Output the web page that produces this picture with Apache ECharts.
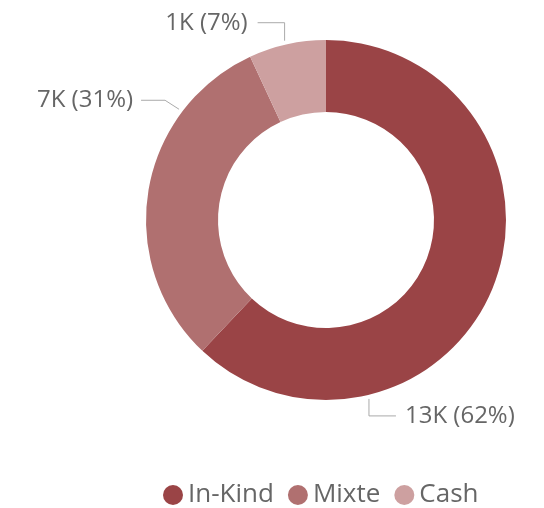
<!DOCTYPE html>
<html>
<head>
<meta charset="utf-8">
<script src="https://cdn.jsdelivr.net/npm/echarts@6/dist/echarts.min.js"></script>
<style>html,body{margin:0;padding:0;background:#fff}#c{width:544px;height:508px}</style>
</head>
<body>
<div id="c"></div>
<script>
const categories = ['In-Kind', 'Mixte', 'Cash'];
const values = [13000, 6500, 1450];
const colors = ['#9a4446', '#b07070', '#cda0a0'];

const CX = 326, CY = 220, R_IN = 108, R_OUT = 180;
const FONT = '"Segoe UI", "Open Sans", "Noto Sans", sans-serif';
// label anchor angles (deg, clockwise from 12 o'clock) and leader directions
const anchorDeg = [166.5, 307, 347];
const leader = [
  {d1: [0, 17], d2: [27, 0], gap: 9, align: 'left'},
  {d1: [-14, -9], d2: [-24, 0], gap: 8, align: 'right'},
  {d1: [0, -18], d2: [-27, 0], gap: 10, align: 'right'}
];

const chart = echarts.init(document.getElementById('c'));
chart.setOption({
  animation: false,
  color: colors,
  legend: {
    data: categories,
    top: 477,
    left: 158,
    icon: 'circle',
    itemWidth: 20,
    itemHeight: 20,
    itemGap: 14,
    textStyle: {fontFamily: FONT, fontSize: 26, color: '#666'}
  },
  series: [{
    type: 'pie',
    center: [CX, CY],
    radius: [R_IN, R_OUT],
    startAngle: 90,
    clockwise: true,
    avoidLabelOverlap: false,
    data: categories.map((c, i) => ({name: c, value: values[i]})),
    label: {
      show: true,
      position: 'outside',
      fontFamily: FONT,
      fontSize: 24,
      color: '#666',
      formatter: p => Math.round(p.value / 1000) + 'K (' + Math.round(p.percent) + '%)'
    },
    labelLine: {show: true, length: 15, length2: 25, lineStyle: {color: '#aaa', width: 1}},
    labelLayout: function (params) {
      const i = params.dataIndex;
      const a = anchorDeg[i] * Math.PI / 180;
      const r = R_OUT + 4;
      const p0 = [CX + r * Math.sin(a), CY - r * Math.cos(a)];
      const L = leader[i];
      const p1 = [p0[0] + L.d1[0], p0[1] + L.d1[1]];
      const p2 = [p1[0] + L.d2[0], p1[1] + L.d2[1]];
      const lx = L.align === 'left' ? p2[0] + L.gap : p2[0] - L.gap;
      return {
        x: lx, y: p2[1], align: L.align, verticalAlign: 'middle',
        labelLinePoints: [p0, p1, p2]
      };
    }
  }]
});
</script>
</body>
</html>
